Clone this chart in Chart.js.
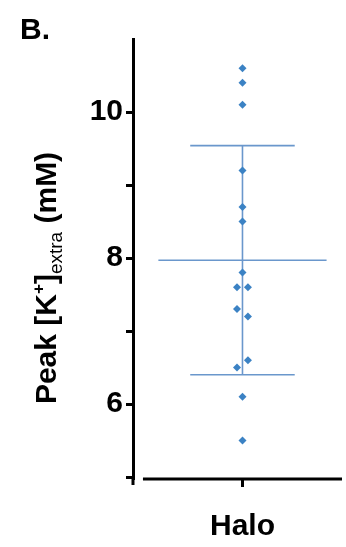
<!DOCTYPE html>
<html>
<head>
<meta charset="utf-8">
<script src="https://cdn.jsdelivr.net/npm/chart.js@4/dist/chart.umd.min.js"></script>
<style>
  html, body { margin: 0; padding: 0; background: #fff; }
  #wrap { position: relative; width: 346px; height: 547px; }
  #panel { position: absolute; left: 20px; top: 14px; font: bold 30px 'Liberation Sans', Arial, sans-serif; line-height: 1; }
  #ylab { position: absolute; left: 46px; top: 278px; transform: translate(-50%, -50%) rotate(-90deg);
          white-space: nowrap; font: bold 30px 'Liberation Sans', Arial, sans-serif; line-height: 1; }
  #ylab sup { font-size: 17px; vertical-align: 12px; line-height: 0; }
  #ylab sub { font-size: 19px; vertical-align: -6px; line-height: 0; font-weight: normal; }
</style>
</head>
<body>
<div id="wrap">
  <canvas id="peakChart" width="346" height="547"></canvas>
  <div id="panel">B.</div>
  <div id="ylab">Peak [K<sup>+</sup>]<sub>extra</sub> (mM)</div>
</div>
<script>
// group + individual recordings
const categories = ['Halo'];
const haloValues = [10.6, 10.4, 10.1, 9.2, 8.7, 8.5, 7.8, 7.6, 7.6, 7.3, 7.2, 6.6, 6.5, 6.1, 5.5];
const haloX      = [1, 1, 1, 1, 1, 1, 1, 0.945, 1.055, 0.945, 1.055, 1.055, 0.945, 1, 1];
const haloMean = [7.97];
const haloSD = [1.57];
const yTicks = [5, 6, 7, 8, 9, 10];
const yTickLabels = ['', '6', '', '8', '', '10'];

const pointBlue = '#3b82c4';
const lineBlue = '#6a97cc';

const mean = haloMean[0], sd = haloSD[0];

function seg(x1, y1, x2, y2) {
  return {
    data: [{ x: x1, y: y1 }, { x: x2, y: y2 }],
    showLine: true,
    borderColor: lineBlue,
    borderWidth: 1.6,
    pointRadius: 0,
    order: 1
  };
}

const axisLines = {
  id: 'axisLines',
  afterDraw(chart) {
    const { ctx, chartArea, scales } = chart;
    ctx.save();
    ctx.strokeStyle = '#000';
    ctx.lineWidth = 3;
    ctx.beginPath();
    ctx.moveTo(scales.x.getPixelForValue(0), chartArea.bottom);
    ctx.lineTo(chartArea.right, chartArea.bottom);
    ctx.moveTo(chartArea.left, chartArea.bottom - 1);
    ctx.lineTo(chartArea.left, chartArea.bottom + 6);
    ctx.stroke();
    ctx.restore();
  }
};

Chart.defaults.font.family = "'Liberation Sans', Arial, sans-serif";
Chart.defaults.color = '#000';

const ctx = document.getElementById('peakChart').getContext('2d');
new Chart(ctx, {
  type: 'scatter',
  data: {
    datasets: [
      {
        data: haloValues.map((v, i) => ({ x: haloX[i], y: v })),
        pointStyle: 'rectRot',
        pointRadius: 4,
        backgroundColor: pointBlue,
        borderColor: pointBlue,
        borderWidth: 0,
        order: 0
      },
      seg(1 - 0.845, mean, 1 + 0.845, mean),
      seg(1 - 0.525, mean + sd, 1 + 0.525, mean + sd),
      seg(1 - 0.525, mean - sd, 1 + 0.525, mean - sd),
      seg(1, mean - sd, 1, mean + sd)
    ]
  },
  options: {
    responsive: false,
    animation: false,
    layout: { padding: { top: 39, right: 3, left: 0, bottom: 0 } },
    plugins: { legend: { display: false }, tooltip: { enabled: false } },
    scales: {
      x: {
        type: 'linear',
        min: -0.1,
        max: 2,
        afterBuildTicks: s => { s.ticks = [{ value: 1 }]; },
        afterFit: s => { s.height = 68; },
        ticks: {
          font: { size: 30, weight: 'bold' },
          padding: 22,
          callback: () => categories[0]
        },
        grid: { drawOnChartArea: false, tickLength: 8, tickWidth: 3, tickColor: '#000' },
        border: { display: false }
      },
      y: {
        min: 4.973,
        max: 11,
        afterBuildTicks: s => { s.ticks = yTicks.map(v => ({ value: v })); },
        afterFit: s => { s.width = 133; },
        ticks: {
          font: { size: 30, weight: 'bold' },
          padding: 3,
          callback: (v) => yTickLabels[yTicks.indexOf(v)]
        },
        grid: { drawOnChartArea: false, tickLength: 7, tickWidth: 3, tickColor: '#000' },
        border: { display: true, color: '#000', width: 3 }
      }
    }
  },
  plugins: [axisLines]
});
</script>
</body>
</html>
